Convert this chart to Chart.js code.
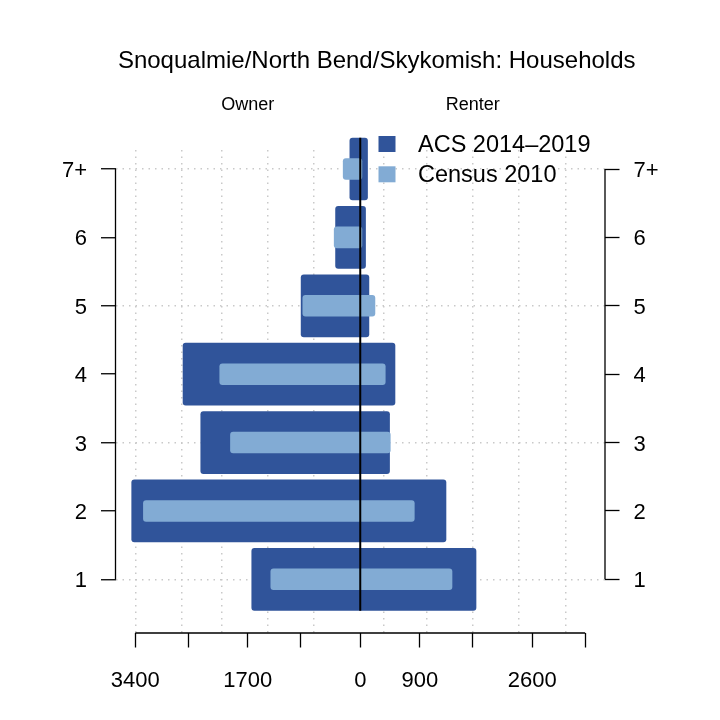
<!DOCTYPE html>
<html>
<head>
<meta charset="utf-8">
<title>Snoqualmie/North Bend/Skykomish: Households</title>
<script src="https://cdn.jsdelivr.net/npm/chart.js@4.4.1/dist/chart.umd.min.js"></script>
<style>
  html, body { margin: 0; padding: 0; background: #fff; }
  canvas { display: block; }
</style>
</head>
<body>
<canvas id="pyramid" width="720" height="720"></canvas>
<script>
// household size, bottom to top
const sizeLabels = ['1', '2', '3', '4', '5', '6', '7+'];
const sizeLevels = [1, 2, 3, 4, 5, 6, 7];

// ACS 2014-2019 (dark bars)
const acsOwner  = [1645, 3460, 2416, 2684, 899, 378, 162];
const acsRenter = [1755, 1301, 448, 530, 136, 85, 115];

// Census 2010 (light bars)
const censusOwner  = [1357, 3283, 1967, 2129, 873, 399, 263];
const censusRenter = [1392, 822, 459, 383, 227, 30, 30];

// x ticks are mirrored on both sides, only some got a label
const xTickValues = [0, 900, 1700, 2600, 3400];
const xLabeled = [-3400, -1700, 0, 900, 2600];
// dotted grid
const xGridValues = [-3400, -2700, -2100, -1400, -700, 350, 1000, 1700, 2400, 3100];
const yGridLevels = [1, 3, 5, 7];

const FONT = "'Liberation Sans', Arial, Helvetica, sans-serif";
const DARK = '#30549A';
const LIGHT = '#82ABD4';

Chart.defaults.font.family = FONT;
Chart.defaults.color = '#000';

// owner goes left (negative), renter right
function toBars(owner, renter) {
  return sizeLevels.map((lvl, i) => ({ y: lvl, x: [-owner[i], renter[i]] }));
}

const allXTicks = () => {
  const neg = xTickValues.filter(v => v > 0).map(v => -v).reverse();
  return neg.concat(xTickValues).map(v => ({ value: v }));
};
const levelTicks = () => sizeLevels.map(v => ({ value: v }));

const X_MIN = -3700, X_MAX = 3700;
const Y_MIN = 0.215, Y_MAX = 7.278;

const decorations = {
  id: 'decorations',
  afterDatasetsDraw(chart) {
    const { ctx, scales } = chart;
    // zero line spans the dark bars
    const bars = chart.getDatasetMeta(1).data;
    const top = Math.min(...bars.map(b => b.y - b.height / 2));
    const bottom = Math.max(...bars.map(b => b.y + b.height / 2));
    const x0 = scales.x.getPixelForValue(0);
    ctx.save();
    ctx.strokeStyle = '#000';
    ctx.lineWidth = 2;
    ctx.beginPath();
    ctx.moveTo(x0, top);
    ctx.lineTo(x0, bottom);
    ctx.stroke();
    ctx.restore();
  },
  afterDraw(chart) {
    const { ctx, chartArea, scales } = chart;
    const xs = scales.x, ys = scales.y;
    const xEnd = Math.max(...xTickValues);

    ctx.save();
    // R style axis lines, only between first and last tick
    ctx.strokeStyle = '#000';
    ctx.lineWidth = 1.3;
    ctx.beginPath();
    ctx.moveTo(chartArea.left, ys.getPixelForValue(sizeLevels[0]));
    ctx.lineTo(chartArea.left, ys.getPixelForValue(sizeLevels[sizeLevels.length - 1]));
    ctx.moveTo(chartArea.right, ys.getPixelForValue(sizeLevels[0]));
    ctx.lineTo(chartArea.right, ys.getPixelForValue(sizeLevels[sizeLevels.length - 1]));
    ctx.moveTo(xs.getPixelForValue(-xEnd), chartArea.bottom);
    ctx.lineTo(xs.getPixelForValue(xEnd), chartArea.bottom);
    ctx.stroke();

    ctx.fillStyle = '#000';
    ctx.textBaseline = 'alphabetic';
    ctx.textAlign = 'center';
    ctx.font = '24px ' + FONT;
    ctx.fillText('Snoqualmie/North Bend/Skykomish: Households', 376.7, 68);

    ctx.font = '18px ' + FONT;
    ctx.fillText('Owner', xs.getPixelForValue(-1700), 110);
    ctx.fillText('Renter', xs.getPixelForValue(1700), 110);

    // legend
    ctx.textAlign = 'left';
    ctx.font = '23.5px ' + FONT;
    [1, 0].forEach((di, row) => {
      const ds = chart.data.datasets[di];
      const cy = 144 + row * 30.3;
      ctx.fillStyle = ds.backgroundColor;
      ctx.fillRect(378.5, cy - 8, 17, 16);
      ctx.fillStyle = '#000';
      ctx.fillText(ds.label, 418, cy + 8);
    });
    ctx.restore();
  }
};

new Chart(document.getElementById('pyramid'), {
  type: 'bar',
  data: {
    datasets: [
      {
        label: 'Census 2010',
        data: toBars(censusOwner, censusRenter),
        backgroundColor: LIGHT,
        barPercentage: 0.315,
        categoryPercentage: 1,
        grouped: false,
        borderRadius: 3,
        borderSkipped: false,
        xAxisID: 'x',
        yAxisID: 'y',
        clip: false
      },
      {
        label: 'ACS 2014–2019',
        data: toBars(acsOwner, acsRenter),
        backgroundColor: DARK,
        barPercentage: 0.917,
        categoryPercentage: 1,
        grouped: false,
        borderRadius: 3,
        borderSkipped: false,
        xAxisID: 'x',
        yAxisID: 'y',
        clip: false
      }
    ]
  },
  options: {
    indexAxis: 'y',
    responsive: false,
    animation: false,
    events: [],
    layout: { padding: { top: 150, left: 0, right: 0, bottom: 0 } },
    plugins: {
      legend: { display: false },
      tooltip: { enabled: false },
      title: { display: false }
    },
    scales: {
      x: {
        type: 'linear',
        position: 'bottom',
        min: X_MIN,
        max: X_MAX,
        afterBuildTicks: s => { s.ticks = allXTicks(); },
        afterFit: s => { s.height = 87; },
        grid: {
          drawOnChartArea: false,
          drawTicks: true,
          tickLength: 14.5,
          tickColor: '#000',
          tickWidth: 1.3
        },
        border: { display: false },
        ticks: {
          autoSkip: false,
          maxRotation: 0,
          minRotation: 0,
          padding: 20,
          font: { size: 22 },
          callback: v => xLabeled.includes(v) ? String(Math.abs(v)) : ''
        }
      },
      xg: {
        type: 'linear',
        position: 'top',
        min: X_MIN,
        max: X_MAX,
        afterBuildTicks: s => { s.ticks = xGridValues.map(v => ({ value: v })); },
        afterFit: s => { s.height = 0; },
        grid: {
          drawOnChartArea: true,
          drawTicks: false,
          color: '#c9c9c9',
          lineWidth: 1.5
        },
        border: { display: false, dash: [1.5, 5] },
        ticks: { display: false }
      },
      y: {
        type: 'linear',
        position: 'left',
        offset: false,
        min: Y_MIN,
        max: Y_MAX,
        afterBuildTicks: s => { s.ticks = levelTicks(); },
        afterFit: s => { s.width = 115.5; },
        grid: {
          offset: false,
          drawOnChartArea: true,
          drawTicks: true,
          tickLength: 14.5,
          tickColor: '#000',
          tickWidth: 1.3,
          lineWidth: 1.5,
          color: c => (c.tick && yGridLevels.includes(c.tick.value)) ? '#c9c9c9' : 'rgba(0,0,0,0)'
        },
        border: { display: false, dash: [1.5, 5] },
        ticks: {
          padding: 14,
          labelOffset: 2,
          font: { size: 22 },
          callback: v => sizeLabels[sizeLevels.indexOf(v)]
        }
      },
      y2: {
        type: 'linear',
        position: 'right',
        offset: false,
        min: Y_MIN,
        max: Y_MAX,
        afterBuildTicks: s => { s.ticks = levelTicks(); },
        afterFit: s => { s.width = 115; },
        grid: {
          offset: false,
          drawOnChartArea: false,
          drawTicks: true,
          tickLength: 14.5,
          tickColor: '#000',
          tickWidth: 1.3
        },
        border: { display: false },
        ticks: {
          padding: 14,
          labelOffset: 2,
          font: { size: 22 },
          callback: v => sizeLabels[sizeLevels.indexOf(v)]
        }
      }
    }
  },
  plugins: [decorations]
});
</script>
</body>
</html>
